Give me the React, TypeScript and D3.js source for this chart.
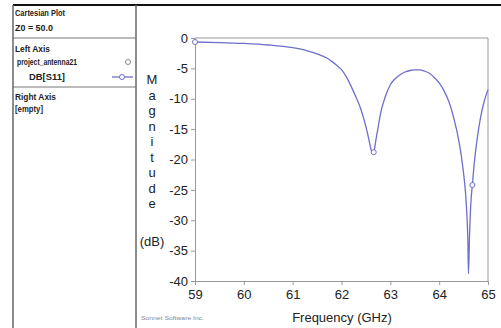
import React, { useEffect, useRef } from 'react';
import * as d3 from 'd3';

// S11 magnitude (GHz, dB)
const freqs = [
  59.0, 59.5, 60.0, 60.5, 61.0, 61.3, 61.5, 61.7, 61.8, 61.9,
  62.0, 62.1, 62.2, 62.3, 62.4, 62.5, 62.55, 62.6, 62.63, 62.66,
  62.7, 62.75, 62.8, 62.9, 63.0, 63.1, 63.2, 63.3, 63.4, 63.5,
  63.6, 63.7, 63.8, 63.9, 64.0, 64.1, 64.2, 64.3, 64.4, 64.45,
  64.5, 64.54, 64.57, 64.59, 64.6, 64.62, 64.65, 64.68, 64.72, 64.78,
  64.85, 64.92, 65.0,
];
const magDb = [
  -0.66, -0.75, -0.9, -1.15, -1.6, -2.1, -2.6, -3.3, -3.85, -4.5,
  -5.2, -6.4, -8.0, -9.8, -11.8, -14.6, -16.3, -18.2, -18.9, -18.8,
  -17.0, -14.7, -12.4, -9.6, -7.7, -6.7, -6.05, -5.6, -5.35, -5.25,
  -5.25, -5.45, -5.8, -6.5, -7.4, -8.7, -10.5, -13.2, -16.8, -19.2,
  -22.3, -25.5, -29.5, -34.0, -38.8, -33.0, -27.0, -24.2, -20.5, -16.5,
  -13.0, -10.5, -8.5,
];
const markerFreqs = [59.0, 62.66, 64.68];

const xTicks = [59, 60, 61, 62, 63, 64, 65];
const yTicks = [0, -5, -10, -15, -20, -25, -30, -35, -40];
const yLabelLetters = ['M', 'a', 'g', 'n', 'i', 't', 'u', 'd', 'e'];

const panelText = [
  { text: 'Cartesian Plot', x: 15, y: 16, len: 50 },
  { text: 'Z0 = 50.0', x: 15, y: 31, len: 38 },
  { text: 'Left Axis', x: 15, y: 52, len: 35 },
  { text: 'project_antenna21', x: 17, y: 65, len: 60 },
  { text: 'DB[S11]', x: 29, y: 80, len: 36 },
  { text: 'Right Axis', x: 15, y: 100, len: 41 },
  { text: '[empty]', x: 15, y: 112, len: 28 },
];

const W = 501;
const H = 328;
const lineColor = '#6e6ecc';
const font = '"Liberation Sans", Arial, sans-serif';

function SonnetPlot() {
  const svgRef = useRef<SVGSVGElement>(null);

  useEffect(() => {
    const svg = d3.select(svgRef.current);
    svg.selectAll('*').remove();

    const plot = { left: 195, right: 488, top: 38, bottom: 281 };

    const x = d3.scaleLinear().domain([59, 65]).range([plot.left, plot.right]);
    const y = d3.scaleLinear().domain([-40, 0]).range([plot.bottom, plot.top]);

    svg.append('rect').attr('width', W).attr('height', H).attr('fill', '#fff');

    // outer frame and left info panel
    svg.append('line')
      .attr('x1', 13).attr('x2', W).attr('y1', 5).attr('y2', 5)
      .attr('stroke', '#111').attr('stroke-width', 2);
    [13, 136].forEach(px => {
      svg.append('line')
        .attr('x1', px).attr('x2', px).attr('y1', 5).attr('y2', H)
        .attr('stroke', '#666').attr('stroke-width', 1.5);
    });
    [38, 87].forEach(py => {
      svg.append('line')
        .attr('x1', 13).attr('x2', 136).attr('y1', py).attr('y2', py)
        .attr('stroke', '#777').attr('stroke-width', 1);
    });

    svg.append('g')
      .selectAll('text')
      .data(panelText)
      .join('text')
      .attr('x', d => d.x)
      .attr('y', d => d.y)
      .attr('textLength', d => d.len)
      .attr('lengthAdjust', 'spacingAndGlyphs')
      .style('font-family', font)
      .style('font-size', '9px')
      .style('font-weight', 'bold')
      .attr('fill', '#222')
      .text(d => d.text);

    // legend symbols
    svg.append('circle')
      .attr('cx', 128).attr('cy', 62).attr('r', 2.5)
      .attr('fill', '#fff').attr('stroke', '#888');
    svg.append('line')
      .attr('x1', 112).attr('x2', 133).attr('y1', 77).attr('y2', 77)
      .attr('stroke', lineColor).attr('stroke-width', 1.3);
    svg.append('circle')
      .attr('cx', 122).attr('cy', 77).attr('r', 2.5)
      .attr('fill', '#fff').attr('stroke', lineColor);

    // plot frame (top and right)
    svg.append('path')
      .attr('d', `M${plot.left},${plot.top}H${plot.right}V${plot.bottom}`)
      .attr('fill', 'none')
      .attr('stroke', '#999');

    const yAxis = d3.axisLeft(y).tickValues(yTicks).tickSize(4).tickSizeOuter(0).tickPadding(3)
      .tickFormat(d => String(d));
    const xAxis = d3.axisBottom(x).tickValues(xTicks).tickSize(4).tickSizeOuter(0).tickPadding(5)
      .tickFormat(d => String(d));

    [
      svg.append('g').attr('transform', `translate(${plot.left},0)`).call(yAxis),
      svg.append('g').attr('transform', `translate(0,${plot.bottom})`).call(xAxis),
    ].forEach(g => {
      g.select('.domain').attr('stroke', '#999');
      g.selectAll('.tick line').attr('stroke', '#999');
      g.selectAll('.tick text')
        .attr('fill', '#222')
        .style('font-family', font)
        .style('font-size', '13px');
    });

    // axis titles
    svg.append('g')
      .selectAll('text')
      .data(yLabelLetters)
      .join('text')
      .attr('x', 152)
      .attr('y', (d, i) => 84 + i * 15.5)
      .attr('text-anchor', 'middle')
      .style('font-family', font)
      .style('font-size', '13px')
      .attr('fill', '#222')
      .text(d => d);

    svg.append('text')
      .attr('x', 152).attr('y', 246)
      .attr('text-anchor', 'middle')
      .style('font-family', font)
      .style('font-size', '13px')
      .attr('fill', '#222')
      .text('(dB)');

    svg.append('text')
      .attr('x', 342).attr('y', 322)
      .attr('text-anchor', 'middle')
      .style('font-family', font)
      .style('font-size', '13px')
      .attr('fill', '#222')
      .text('Frequency (GHz)');

    svg.append('text')
      .attr('x', 141).attr('y', 320)
      .attr('textLength', 63)
      .attr('lengthAdjust', 'spacingAndGlyphs')
      .style('font-family', font)
      .style('font-size', '6px')
      .attr('fill', '#888')
      .text('Sonnet Software Inc.');

    // curve
    const pts = freqs.map((f, i) => [f, magDb[i]] as [number, number]);
    const line = d3.line<[number, number]>()
      .x(d => x(d[0]))
      .y(d => y(d[1]))
      .curve(d3.curveMonotoneX);

    svg.append('path')
      .datum(pts)
      .attr('d', line)
      .attr('fill', 'none')
      .attr('stroke', lineColor)
      .attr('stroke-width', 1.3);

    const markers = markerFreqs.map(f => pts[freqs.indexOf(f)]);
    svg.append('g')
      .selectAll('circle')
      .data(markers)
      .join('circle')
      .attr('cx', d => x(d[0]))
      .attr('cy', d => y(d[1]))
      .attr('r', 2.5)
      .attr('fill', '#fff')
      .attr('stroke', lineColor);
  }, []);

  return (
    <svg
      ref={svgRef}
      width={W}
      height={H}
      style={{ position: 'absolute', left: 0, top: 0, display: 'block' }}
    />
  );
}

export default function App() {
  return <SonnetPlot />;
}
